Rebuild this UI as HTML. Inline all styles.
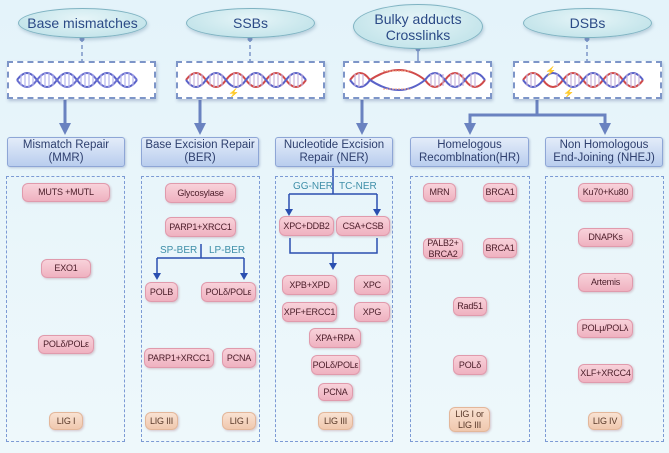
<!DOCTYPE html>
<html><head><meta charset="utf-8"><style>
*{margin:0;padding:0;box-sizing:border-box}
body{width:669px;height:453px;overflow:hidden;background:linear-gradient(180deg,#e4f3fa,#eef8fb);font-family:"Liberation Sans",sans-serif;position:relative}
.a{position:absolute}
.el{position:absolute;border-radius:50%;background:radial-gradient(ellipse at 50% 35%,#e6f5f8,#b9dfe6);border:1px solid #7fb3c2;color:#2b4a86;font-size:14px;display:flex;align-items:center;justify-content:center;text-align:center;line-height:16px;box-shadow:1px 2px 3px rgba(80,120,150,.3)}
.dna{position:absolute;background:#fff;border:2px dashed #7d95c8;box-shadow:1px 2px 3px rgba(80,100,150,.35)}
.h{position:absolute;border:1px solid #8ea6d6;border-radius:3px;background:linear-gradient(#e3ecf9,#b9cdee);color:#2e3f6e;font-size:11.5px;line-height:13px;display:flex;align-items:center;justify-content:center;text-align:center;box-shadow:1px 1px 2px rgba(80,100,150,.3)}
.c{position:absolute;border:1.5px dashed #7c9ad4;top:176px;height:266px}
.n{position:absolute;border:1px solid #e09aac;border-radius:6px;background:linear-gradient(#f8d2da,#efb1c0);color:#4a1c28;font-size:9px;letter-spacing:-0.2px;white-space:nowrap;display:flex;align-items:center;justify-content:center;text-align:center;line-height:11px;box-shadow:1px 1px 2px rgba(150,80,100,.3)}
.l{background:linear-gradient(#f9e2d2,#f0c8ae);border-color:#e3b79a;color:#5a3a2a}
.t{position:absolute;font-size:10px;color:#3f8fa8}
</style></head><body>
<svg class="a" style="left:0;top:0" width="669" height="453">
<g stroke="#7d95c8" stroke-width="1.5" stroke-dasharray="4,3"><line x1="82" y1="38" x2="82" y2="61"/><line x1="250" y1="38" x2="250" y2="61"/><line x1="587" y1="38" x2="587" y2="61"/></g>
<line x1="418" y1="49" x2="418" y2="61" stroke="#7d95c8" stroke-width="1.5"/>
<g fill="#7d95c8"><circle cx="82" cy="39" r="2.5"/><circle cx="250" cy="39" r="2.5"/><circle cx="418" cy="49" r="2.5"/><circle cx="587" cy="39" r="2.5"/></g>
<g stroke="#6a82c0" stroke-width="3" fill="none">
<line x1="65" y1="100" x2="65" y2="125"/><line x1="200" y1="100" x2="200" y2="125"/><line x1="362" y1="100" x2="362" y2="125"/>
<polyline points="537,100 537,115 470,115 470,125"/><polyline points="537,115 605,115 605,125"/></g>
<g fill="#6a82c0"><path d="M59,123h12l-6,12z"/><path d="M194,123h12l-6,12z"/><path d="M356,123h12l-6,12z"/><path d="M464,123h12l-6,12z"/><path d="M599,123h12l-6,12z"/></g>
<g stroke="#2a4fb0" stroke-width="1.5" fill="none">
<polyline points="201,244 201,258"/><polyline points="157,258 244,258 "/><line x1="157" y1="258" x2="157" y2="274"/><line x1="244" y1="258" x2="244" y2="274"/>
<line x1="333" y1="168" x2="333" y2="194"/><line x1="289" y1="194" x2="377" y2="194"/><line x1="289" y1="194" x2="289" y2="210"/><line x1="377" y1="194" x2="377" y2="210"/>
<polyline points="290,238 290,253 377,253 377,238"/><line x1="333" y1="253" x2="333" y2="264"/></g>
<g fill="#2a4fb0"><path d="M153,273h8l-4,7z"/><path d="M240,273h8l-4,7z"/><path d="M285,209h8l-4,7z"/><path d="M373,209h8l-4,7z"/><path d="M329,263h8l-4,7z"/></g>
</svg>
<div class="el" style="left:18px;top:8px;width:129px;height:30px">Base mismatches</div>
<div class="el" style="left:186px;top:8px;width:129px;height:30px">SSBs</div>
<div class="el" style="left:353px;top:4px;width:130px;height:45px">Bulky adducts<br>Crosslinks</div>
<div class="el" style="left:523px;top:8px;width:129px;height:30px">DSBs</div>
<div class="dna" style="left:7px;top:61px;width:149px;height:38px"><svg width="145" height="34"><path d="M8,17 q10,-14 20,0 t20,0 t20,0 t20,0 t20,0 t20,0" stroke="#5a62c8" stroke-width="2" fill="none"/><path d="M8,17 q10,14 20,0 t20,0 t20,0 t20,0 t20,0 t20,0" stroke="#6a6fd0" stroke-width="2" fill="none"/><path d="M12,11v12M16,10v14M20,10v14M24,11v12M32,11v12M36,10v14M40,10v14M44,11v12M52,11v12M56,10v14M60,10v14M64,11v12M72,11v12M76,10v14M80,10v14M84,11v12M92,11v12M96,10v14M100,10v14M104,11v12M112,11v12M116,10v14M120,10v14M124,11v12" stroke="#b4b4ec" stroke-width="1.2"/></svg></div>
<div class="dna" style="left:176px;top:61px;width:149px;height:38px"><svg width="145" height="34"><path d="M8,17 q10,-14 20,0 t20,0 t20,0 t20,0 t20,0 t20,0" stroke="#d04a4a" stroke-width="2" fill="none"/><path d="M8,17 q10,14 20,0 t20,0 t20,0 t20,0 t20,0 t20,0" stroke="#5a62c8" stroke-width="2" fill="none"/><path d="M12,11v12M16,10v14M20,10v14M24,11v12M32,11v12M36,10v14M40,10v14M44,11v12M56,10v14M60,10v14M64,11v12M72,11v12M76,10v14M80,10v14M84,11v12M92,11v12M96,10v14M100,10v14M104,11v12M112,11v12M116,10v14M120,10v14M124,11v12" stroke="#c8b4dc" stroke-width="1.2"/><text x="50" y="33" font-size="9" fill="#f08020">⚡</text></svg></div>
<div class="dna" style="left:343px;top:61px;width:149px;height:38px"><svg width="145" height="34"><path d="M5,17 q10,-14 20,0 q30,-20 55,0 q10,14 20,0 t20,0 t20,0" stroke="#d04a4a" stroke-width="2" fill="none"/><path d="M5,17 q10,14 20,0 q30,20 55,0 q10,-14 20,0 t20,0 t20,0" stroke="#5a62c8" stroke-width="2" fill="none"/><path d="M10,11v12M14,10v14M18,11v12M86,11v12M90,10v14M94,10v14M98,11v12M106,11v12M110,10v14M114,10v14M118,11v12M126,10v14M130,10v14" stroke="#c8b4dc" stroke-width="1.2"/><path d="M38,8h28M38,26h28" stroke="#f0a080" stroke-width="1" stroke-dasharray="2,1"/></svg></div>
<div class="dna" style="left:513px;top:61px;width:149px;height:38px"><svg width="145" height="34"><path d="M8,17 q10,-14 20,0 t20,0 t20,0 t20,0 t20,0 t20,0" stroke="#d04a4a" stroke-width="2" fill="none"/><path d="M8,17 q10,14 20,0 t20,0 t20,0 t20,0 t20,0 t20,0" stroke="#5a62c8" stroke-width="2" fill="none"/><path d="M12,11v12M16,10v14M20,10v14M42,11v12M52,11v12M56,10v14M60,10v14M64,11v12M72,11v12M76,10v14M80,10v14M84,11v12M92,11v12M96,10v14M100,10v14M104,11v12M112,11v12M116,10v14M120,10v14M124,11v12" stroke="#c8b4dc" stroke-width="1.2"/><text x="30" y="11" font-size="9" fill="#f08020">⚡</text><text x="48" y="33" font-size="9" fill="#f08020">⚡</text></svg></div>
<div class="h" style="left:7px;top:137px;width:118px;height:30px">Mismatch Repair<br>(MMR)</div>
<div class="h" style="left:141px;top:137px;width:118px;height:30px">Base Excision Repair<br>(BER)</div>
<div class="h" style="left:275px;top:137px;width:118px;height:30px">Nucleotide Excision<br>Repair (NER)</div>
<div class="h" style="left:410px;top:137px;width:119px;height:30px">Homelogous<br>Recomblnation(HR)</div>
<div class="h" style="left:545px;top:137px;width:118px;height:30px">Non Homologous<br>End-Joining (NHEJ)</div>
<div class="c" style="left:6px;width:119px"></div>
<div class="c" style="left:141px;width:119px"></div>
<div class="c" style="left:275px;width:118px"></div>
<div class="c" style="left:410px;width:120px"></div>
<div class="c" style="left:545px;width:119px"></div>
<div class="n" style="left:22px;top:183px;width:88px;height:19px">MUTS +MUTL</div>
<div class="n" style="left:41px;top:259px;width:50px;height:19px">EXO1</div>
<div class="n" style="left:38px;top:335px;width:56px;height:19px">POLδ/POLε</div>
<div class="n l" style="left:49px;top:412px;width:34px;height:18px">LIG I</div>
<div class="n" style="left:165px;top:183px;width:71px;height:20px">Glycosylase</div>
<div class="n" style="left:165px;top:217px;width:71px;height:20px">PARP1+XRCC1</div>
<div class="t" style="left:160px;top:245px">SP-BER</div>
<div class="t" style="left:209px;top:245px">LP-BER</div>
<div class="n" style="left:145px;top:282px;width:33px;height:20px">POLB</div>
<div class="n" style="left:201px;top:282px;width:55px;height:20px">POLδ/POLε</div>
<div class="n" style="left:144px;top:348px;width:70px;height:20px">PARP1+XRCC1</div>
<div class="n" style="left:222px;top:348px;width:34px;height:20px">PCNA</div>
<div class="n l" style="left:145px;top:412px;width:33px;height:18px">LIG III</div>
<div class="n l" style="left:222px;top:412px;width:34px;height:18px">LIG I</div>
<div class="t" style="left:293px;top:181px">GG-NER</div>
<div class="t" style="left:339px;top:181px">TC-NER</div>
<div class="n" style="left:279px;top:216px;width:55px;height:20px">XPC+DDB2</div>
<div class="n" style="left:336px;top:216px;width:54px;height:20px">CSA+CSB</div>
<div class="n" style="left:282px;top:275px;width:55px;height:20px">XPB+XPD</div>
<div class="n" style="left:354px;top:275px;width:36px;height:20px">XPC</div>
<div class="n" style="left:282px;top:302px;width:55px;height:20px">XPF+ERCC1</div>
<div class="n" style="left:354px;top:302px;width:36px;height:20px">XPG</div>
<div class="n" style="left:309px;top:328px;width:52px;height:20px">XPA+RPA</div>
<div class="n" style="left:311px;top:355px;width:49px;height:20px">POLδ/POLε</div>
<div class="n" style="left:318px;top:383px;width:35px;height:18px">PCNA</div>
<div class="n l" style="left:318px;top:412px;width:35px;height:18px">LIG III</div>
<div class="n" style="left:423px;top:183px;width:33px;height:19px">MRN</div>
<div class="n" style="left:483px;top:183px;width:34px;height:19px">BRCA1</div>
<div class="n" style="left:423px;top:238px;width:40px;height:21px">PALB2+<br>BRCA2</div>
<div class="n" style="left:483px;top:238px;width:34px;height:20px">BRCA1</div>
<div class="n" style="left:453px;top:297px;width:34px;height:19px">Rad51</div>
<div class="n" style="left:453px;top:355px;width:34px;height:20px">POLδ</div>
<div class="n l" style="left:449px;top:407px;width:41px;height:25px">LIG I or<br>LIG III</div>
<div class="n" style="left:578px;top:183px;width:55px;height:19px">Ku70+Ku80</div>
<div class="n" style="left:578px;top:228px;width:55px;height:19px">DNAPKs</div>
<div class="n" style="left:578px;top:273px;width:55px;height:19px">Artemis</div>
<div class="n" style="left:577px;top:319px;width:56px;height:19px">POLμ/POLλ</div>
<div class="n" style="left:578px;top:364px;width:55px;height:19px">XLF+XRCC4</div>
<div class="n l" style="left:588px;top:412px;width:34px;height:18px">LIG IV</div>
</body></html>
